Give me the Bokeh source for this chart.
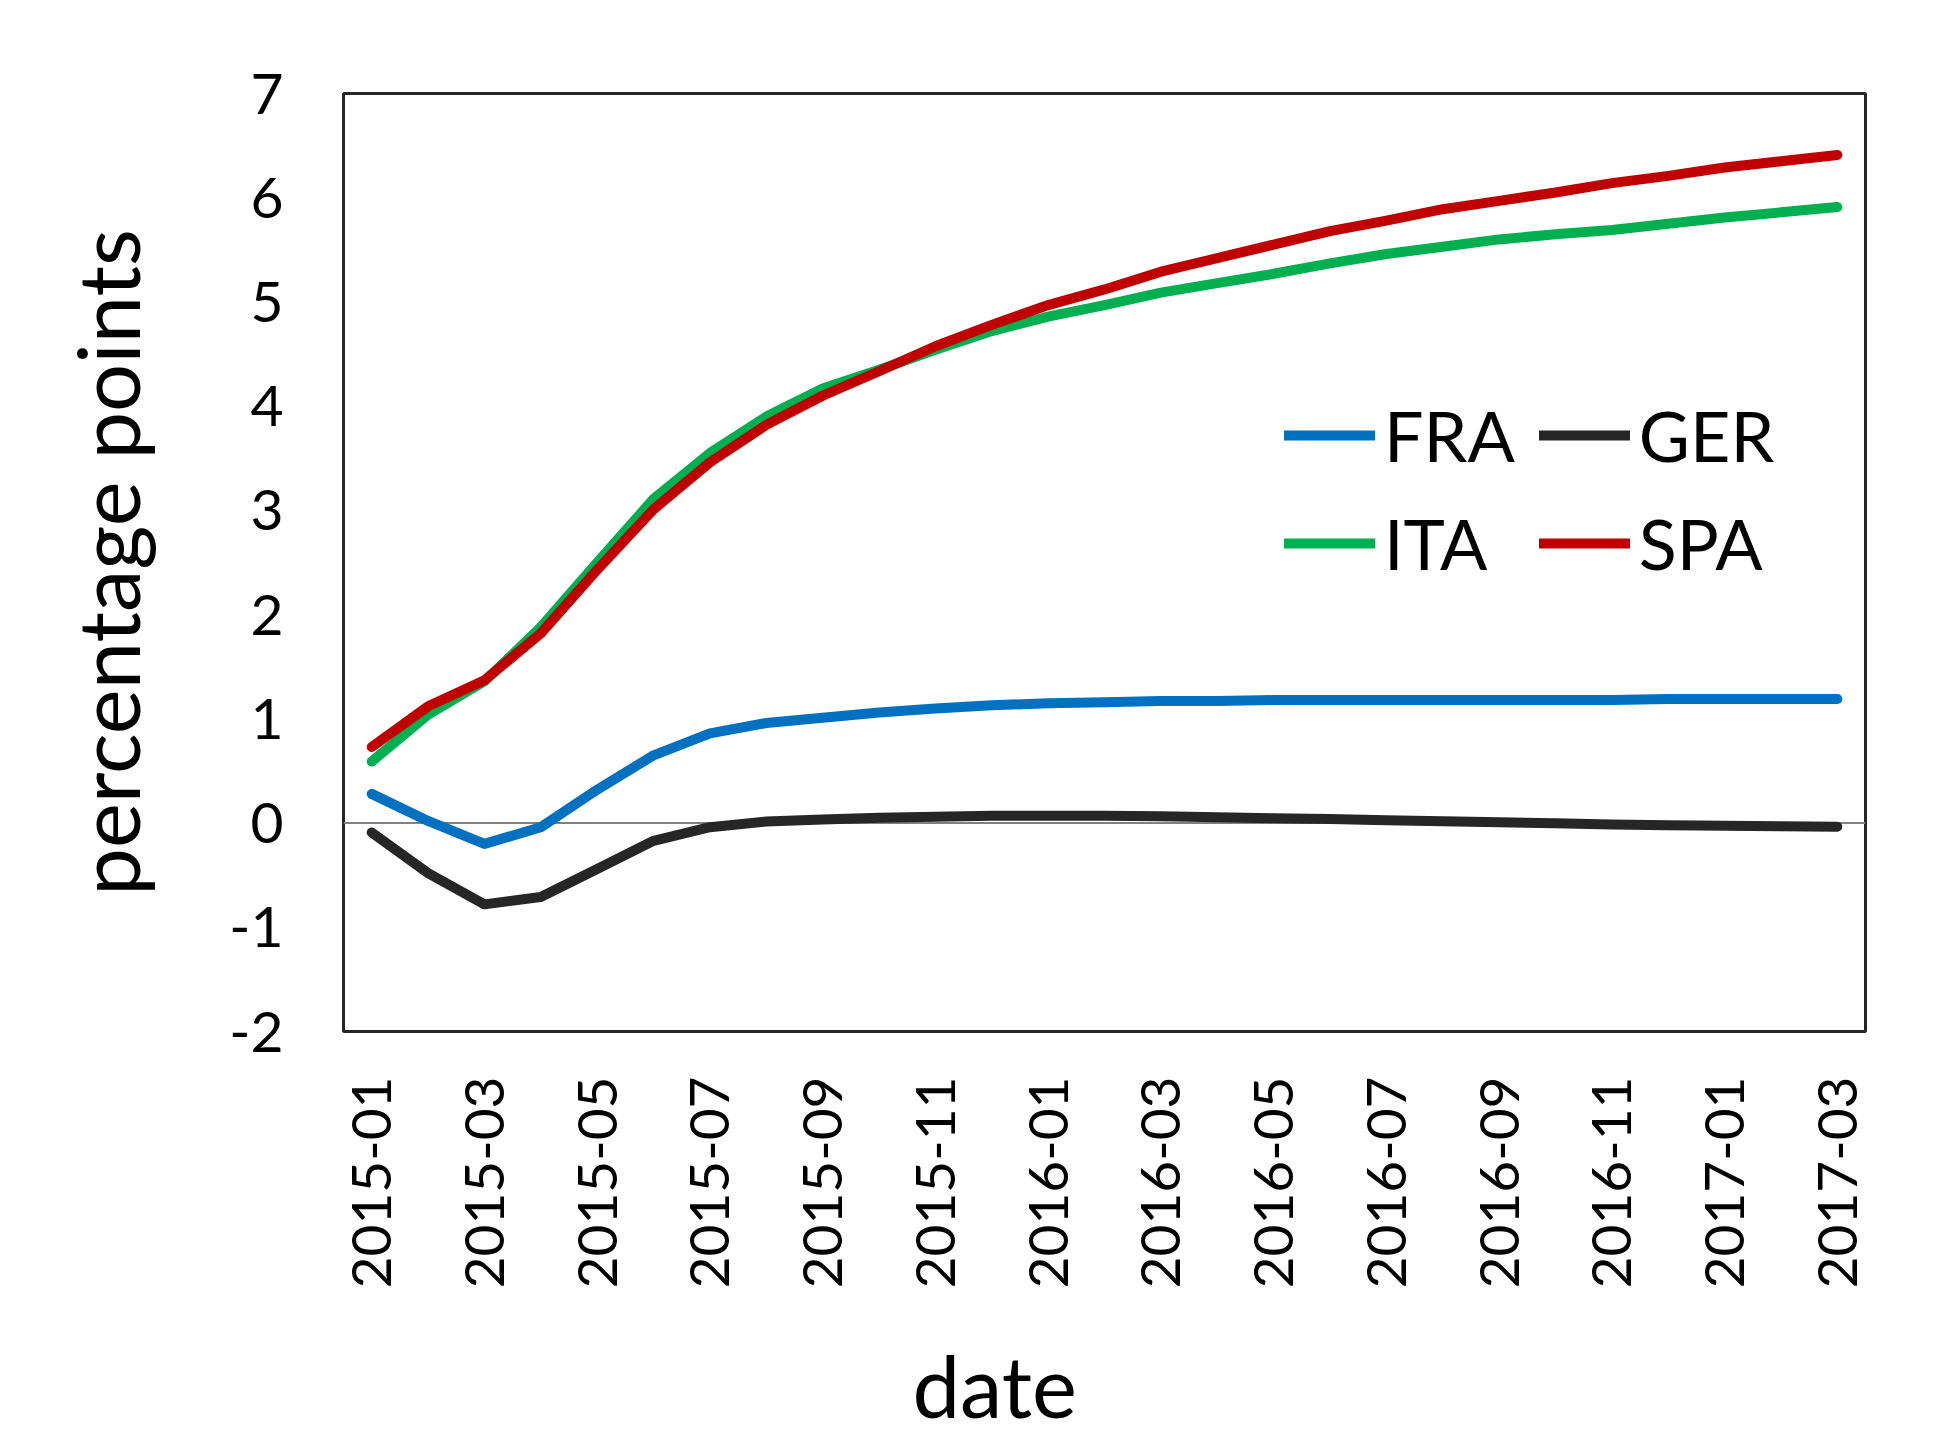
import math
from bokeh.plotting import figure
from bokeh.models import Range1d, FixedTicker, Span, Legend, LegendItem, Title
from bokeh.embed import file_html
from bokeh.resources import INLINE

months = ["2015-01", "2015-02", "2015-03", "2015-04", "2015-05", "2015-06",
          "2015-07", "2015-08", "2015-09", "2015-10", "2015-11", "2015-12",
          "2016-01", "2016-02", "2016-03", "2016-04", "2016-05", "2016-06",
          "2016-07", "2016-08", "2016-09", "2016-10", "2016-11", "2016-12",
          "2017-01", "2017-02", "2017-03"]

fra = [0.28, 0.02, -0.20, -0.04, 0.32, 0.65, 0.86, 0.96, 1.01, 1.06, 1.10, 1.13,
       1.15, 1.16, 1.17, 1.17, 1.18, 1.18, 1.18, 1.18, 1.18, 1.18, 1.18, 1.19,
       1.19, 1.19, 1.19]
ger = [-0.09, -0.48, -0.78, -0.71, -0.44, -0.17, -0.04, 0.015, 0.035, 0.05, 0.06, 0.07,
       0.07, 0.07, 0.065, 0.056, 0.046, 0.038, 0.028, 0.018, 0.008, -0.003, -0.013, -0.02,
       -0.026, -0.03, -0.035]
ita = [0.59, 1.04, 1.36, 1.88, 2.50, 3.11, 3.55, 3.90, 4.17, 4.35, 4.54, 4.72,
       4.86, 4.97, 5.09, 5.18, 5.27, 5.37, 5.46, 5.53, 5.60, 5.65, 5.69, 5.75,
       5.81, 5.86, 5.91]
spa = [0.73, 1.12, 1.37, 1.82, 2.43, 3.01, 3.46, 3.82, 4.10, 4.335, 4.575, 4.78,
       4.97, 5.12, 5.29, 5.42, 5.55, 5.68, 5.78, 5.89, 5.97, 6.05, 6.14, 6.21,
       6.29, 6.35, 6.41]

series_names = ["FRA", "GER", "ITA", "SPA"]
series_values = [fra, ger, ita, spa]
series_colors = ["#0070C0", "#262626", "#00B050", "#C00000"]
# legend is filled column by column: FRA/ITA in column 1, GER/SPA in column 2
legend_order = ["FRA", "ITA", "GER", "SPA"]

y_ticks = [-2, -1, 0, 1, 2, 3, 4, 5, 6, 7]
x_tick_idx = list(range(0, len(months), 2))
x_tick_labels = {i: months[i] for i in x_tick_idx}

FONT = "Lato"

x = list(range(len(months)))

p = figure(frame_width=1522, frame_height=938,
           x_range=Range1d(-0.5, len(months) - 0.5), y_range=Range1d(-2, 7),
           output_backend="svg", toolbar_location=None,
           min_border_left=343, min_border_right=65,
           min_border_top=93, min_border_bottom=400)

p.outline_line_color = "#262626"
p.outline_line_width = 3
p.xgrid.visible = False
p.ygrid.visible = False

for ax in (p.xaxis[0], p.yaxis[0]):
    ax.axis_line_color = None
    ax.major_tick_line_color = None
    ax.minor_tick_line_color = None
    ax.major_tick_out = 0
    ax.major_label_text_font = FONT
    ax.major_label_text_color = "#000000"

p.xaxis.ticker = FixedTicker(ticks=x_tick_idx)
p.xaxis.major_label_overrides = x_tick_labels
p.xaxis.major_label_orientation = math.pi / 2
p.xaxis.major_label_text_font_size = "55px"
p.xaxis.major_label_standoff = 45

p.yaxis.ticker = FixedTicker(ticks=y_ticks)
p.yaxis.major_label_overrides = {t: str(t) for t in y_ticks}
p.yaxis.major_label_text_font_size = "57px"
p.yaxis.major_label_standoff = 60
p.yaxis.axis_label = "percentage points"
p.yaxis.axis_label_text_font = FONT
p.yaxis.axis_label_text_font_size = "85px"
p.yaxis.axis_label_text_font_style = "normal"
p.yaxis.axis_label_text_color = "#000000"
p.yaxis.axis_label_standoff = 68

p.add_layout(Span(location=0, dimension="width", line_color="#808080",
                  line_width=2, level="underlay"))

renderers = {}
for name, vals, col in zip(series_names, series_values, series_colors):
    renderers[name] = p.line(x, vals, line_width=10, line_color=col,
                             line_cap="round", line_join="round")

items = [LegendItem(label=n, renderers=[renderers[n]]) for n in legend_order]
legend = Legend(items=items, ncols=2, location=(941, 446),
                glyph_width=91, glyph_height=20, label_standoff=9,
                spacing=24, padding=0, margin=0,
                border_line_color=None, background_fill_alpha=0,
                label_text_font=FONT, label_text_font_size="70px",
                label_text_color="#000000")
p.add_layout(legend)

p.add_layout(Title(text="date", align="left", offset=569, standoff=84,
                   vertical_align="top", text_font=FONT,
                   text_font_size="85px", text_font_style="normal",
                   text_color="#000000"), "below")

open("out.html", "w").write(file_html(p, INLINE))
